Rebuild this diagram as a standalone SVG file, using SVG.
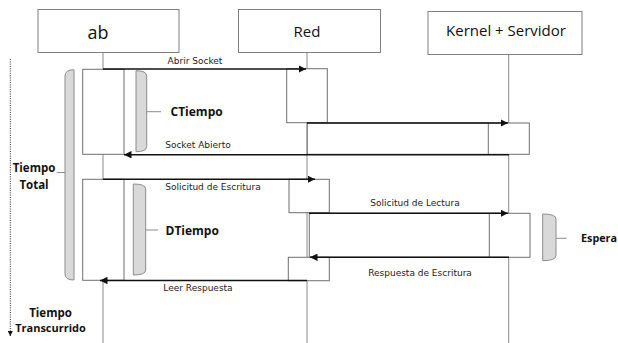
<svg xmlns="http://www.w3.org/2000/svg" width="618" height="343" viewBox="0 0 618 343">
<defs>
<style>
.hdr{fill:#fff;stroke:#7f7f7f;stroke-width:1}
.act{fill:#fff;stroke:#6f6f6f;stroke-width:1}
.life{stroke:#8a8a8a;stroke-width:1;fill:none}
.msg{stroke:#111;stroke-width:1.5;fill:none;marker-end:url(#ah)}
.lbl{font-family:"DejaVu Sans",sans-serif;font-size:9px;fill:#222;text-anchor:middle}
.ht{font-family:"Open Sans",sans-serif;fill:#111;text-anchor:middle}
.bt{font-family:"Open Sans",sans-serif;font-weight:bold;fill:#111}
.brace{fill:#d9d9d9;stroke:#8c8c8c;stroke-width:1}
.tick{stroke:#8c8c8c;stroke-width:1}
</style>
<marker id="ah" viewBox="0 0 10 10" refX="10" refY="5" markerWidth="5" markerHeight="5" orient="auto" markerUnits="strokeWidth">
<path d="M0,0 L10,5 L0,10 Z" fill="#111"/>
</marker>
<marker id="dah" viewBox="0 0 10 10" refX="10" refY="5" markerWidth="5" markerHeight="5" orient="auto" markerUnits="userSpaceOnUse">
<path d="M0,0 L10,5 L0,10 Z" fill="#111"/>
</marker>
</defs>

<g id="node-ab">
<rect class="hdr" x="38" y="9.5" width="141" height="43"/>
<text class="ht" x="98" y="38.5" font-size="18">ab</text>
</g>
<g id="node-red">
<rect class="hdr" x="238.5" y="9.5" width="142" height="43"/>
<text class="ht" x="307" y="36.5" font-size="15">Red</text>
</g>
<g id="node-kernel">
<rect class="hdr" x="428" y="11.5" width="154" height="43"/>
<text class="ht" x="506" y="35.5" font-size="15">Kernel + Servidor</text>
</g>

<g id="lifelines">
<line class="life" x1="103" y1="52.5" x2="103" y2="343"/>
<line class="life" x1="307" y1="52.5" x2="307" y2="343"/>
<line class="life" x1="508.7" y1="54.5" x2="508.7" y2="343"/>
</g>

<g id="activations">
<rect class="act" x="82.7" y="69.3" width="41.3" height="85"/>
<rect class="act" x="286.7" y="68.7" width="40.6" height="54"/>
<rect class="act" x="307.3" y="123" width="222" height="31.3"/>
<line class="act" x1="488.3" y1="123" x2="488.3" y2="154.3"/>
<rect class="act" x="82.7" y="179.3" width="41.3" height="101"/>
<rect class="act" x="289" y="179.3" width="40.3" height="33.4"/>
<rect class="act" x="309.3" y="213.3" width="220.7" height="44"/>
<line class="act" x1="489.3" y1="213.3" x2="489.3" y2="257.3"/>
<rect class="act" x="288.3" y="257.3" width="41" height="23.4"/>
</g>

<g id="connectors">
<line class="msg" x1="103" y1="69" x2="306" y2="69"/>
<line class="msg" x1="307" y1="123" x2="508" y2="123"/>
<line class="msg" x1="509" y1="154.7" x2="124" y2="154.7"/>
<line class="msg" x1="103" y1="179.3" x2="315" y2="179.3"/>
<line class="msg" x1="309" y1="213.3" x2="508" y2="213.3"/>
<line class="msg" x1="509" y1="257.3" x2="310" y2="257.3"/>
<line class="msg" x1="307" y1="280.5" x2="100" y2="280.5"/>
<line x1="10.3" y1="59" x2="10.3" y2="336" stroke="#222" stroke-width="1" stroke-dasharray="1 1.3" marker-end="url(#dah)"/>
</g>

<g id="labels">
<text class="lbl" x="195" y="63.5">Abrir Socket</text>
<text class="lbl" x="198" y="148">Socket Abierto</text>
<text class="lbl" x="213" y="190">Solicitud de Escritura</text>
<text class="lbl" x="415" y="206">Solicitud de Lectura</text>
<text class="lbl" x="420" y="276">Respuesta de Escritura</text>
<text class="lbl" x="198" y="291">Leer Respuesta</text>
</g>

<g id="brace-total">
<path class="brace" d="M74,69.7 Q65,69.7 65,76 L65,274 Q65,280 74,280 Z"/>
<line class="tick" x1="56.7" y1="172.5" x2="65" y2="172.5"/>
<text class="bt" x="34" y="172" font-size="11.5" text-anchor="middle">Tiempo</text>
<text class="bt" x="34" y="188.5" font-size="11.5" text-anchor="middle">Total</text>
</g>
<g id="brace-ctiempo">
<path class="brace" d="M136,70.7 Q146.7,70.7 146.7,76 L146.7,146.5 Q146.7,151.7 136,151.7 Z"/>
<line class="tick" x1="146.7" y1="111.7" x2="161" y2="111.7"/>
<text class="bt" x="170.5" y="115.5" font-size="12">CTiempo</text>
</g>
<g id="brace-dtiempo">
<path class="brace" d="M133.3,184 Q145.7,184 145.7,189 L145.7,270 Q145.7,275 133.3,275 Z"/>
<line class="tick" x1="145.7" y1="230" x2="158" y2="230"/>
<text class="bt" x="165.5" y="234.5" font-size="12">DTiempo</text>
</g>
<g id="brace-espera">
<path class="brace" d="M542.7,214 Q556,214 556,219 L556,255.5 Q556,260.7 542.7,260.7 Z"/>
<line class="tick" x1="556" y1="238.3" x2="566.7" y2="238.3"/>
<text class="bt" x="581" y="241.5" font-size="11" textLength="36" lengthAdjust="spacingAndGlyphs">Espera</text>
</g>
<g id="time-label">
<text class="bt" x="50.5" y="317" font-size="11.5" text-anchor="middle">Tiempo</text>
<text class="bt" x="50.5" y="332" font-size="11" text-anchor="middle">Transcurrido</text>
</g>
</svg>
